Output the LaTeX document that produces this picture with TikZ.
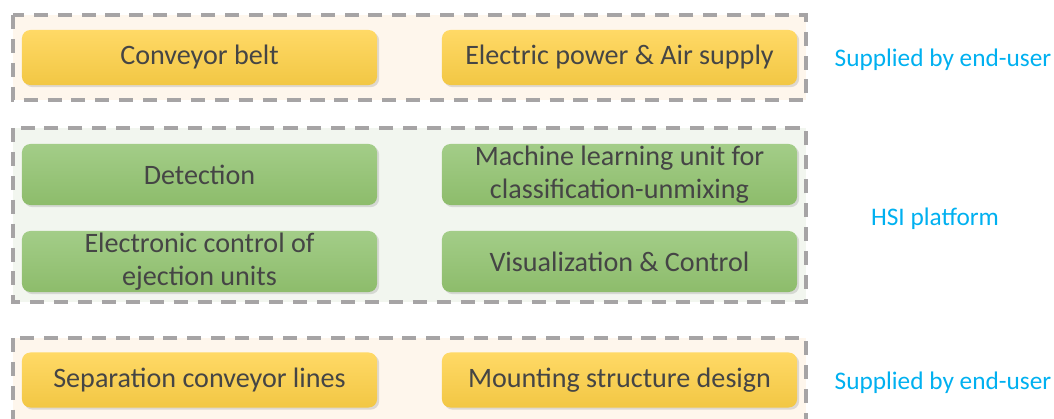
\documentclass[tikz,border=0pt]{standalone}
\usepackage{fontspec}
\setmainfont{Carlito}
\usetikzlibrary{shadows}

\definecolor{txtgray}{HTML}{454545}
\definecolor{dashgray}{HTML}{A6A4A5}
\definecolor{skyblue}{HTML}{00B0F0}
\definecolor{sandfill}{HTML}{FEF6EC}
\definecolor{mintfill}{HTML}{F2F6EF}
\definecolor{goldtop}{HTML}{FFD966}
\definecolor{goldbot}{HTML}{F2C744}
\definecolor{leaftop}{HTML}{A3CD88}
\definecolor{leafbot}{HTML}{8DBC6B}

\begin{document}
\begin{tikzpicture}[x=0.025cm, y=-0.025cm]
    \tikzstyle{grp}=[draw=dashgray, line width=2.8pt, dash pattern=on 10pt off 7pt]
    \tikzstyle{unit}=[rounded corners=6pt, minimum width=8.875cm, inner sep=0pt,
        text=txtgray, align=center, font=\fontsize{20}{23}\selectfont,
        drop shadow={shadow xshift=1.5pt, shadow yshift=-1.5pt, opacity=0.25}]
    \tikzstyle{gold}=[unit, top color=goldtop, bottom color=goldbot, minimum height=1.375cm]
    \tikzstyle{leaf}=[unit, top color=leaftop, bottom color=leafbot, minimum height=1.525cm]
    \tikzstyle{side}=[text=skyblue, font=\fontsize{18}{21}\selectfont]

    \clip (0, 0) rectangle (1054, 419);

    % dashed groups
    \fill[sandfill] (13, 15) rectangle (806, 100);
    \fill[mintfill] (13, 128) rectangle (806, 302);
    \fill[sandfill] (13, 338) rectangle (806, 440);
    \draw[grp] (13, 15) rectangle (806, 100);
    \draw[grp] (13, 128) rectangle (806, 302);
    \draw[grp] (13, 338) rectangle (806, 440);

    % supplied parts, top row
    \node[gold] (belt) at (199.5, 57.5) {Conveyor belt};
    \node[gold] (power) at (619.5, 57.5) {Electric power \& Air supply};

    % HSI platform units
    \node[leaf] (detect) at (199.5, 174.5) {Detection};
    \node[leaf] (learn) at (619.5, 174.5) {Machine learning unit for\\classification-unmixing};
    \node[leaf] (eject) at (199.5, 261.5) {Electronic control of\\ejection units};
    \node[leaf] (visual) at (619.5, 261.5) {Visualization \& Control};

    % supplied parts, bottom row
    \node[gold] (lines) at (199.5, 380) {Separation conveyor lines};
    \node[gold] (mount) at (619.5, 380) {Mounting structure design};

    % side labels
    \node[side] (userA) at (943, 60) {Supplied by end-user};
    \node[side] (hsi) at (935, 219) {HSI platform};
    \node[side] (userB) at (943, 383) {Supplied by end-user};
\end{tikzpicture}
\end{document}
